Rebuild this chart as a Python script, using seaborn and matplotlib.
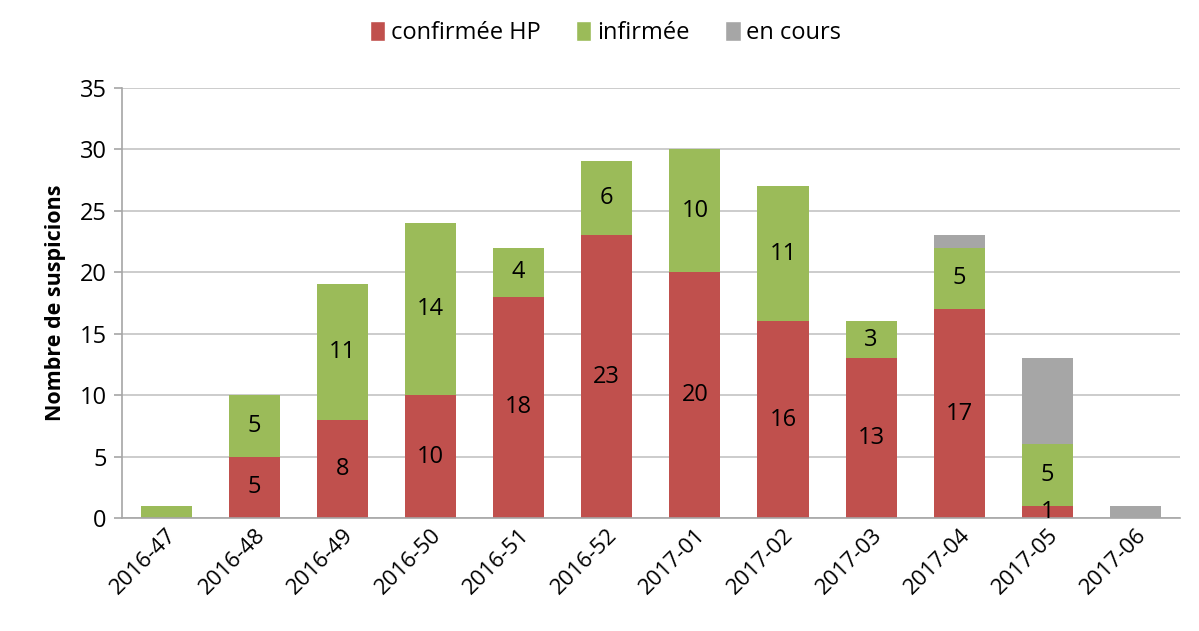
import matplotlib
matplotlib.use("Agg")
import matplotlib.pyplot as plt
import numpy as np
import pandas as pd
import seaborn as sns
from matplotlib.patches import Patch

weeks = ["2016-47", "2016-48", "2016-49", "2016-50", "2016-51", "2016-52",
         "2017-01", "2017-02", "2017-03", "2017-04", "2017-05", "2017-06"]
confirmee = [0, 5, 8, 10, 18, 23, 20, 16, 13, 17, 1, 0]
infirmee = [1, 5, 11, 14, 4, 6, 10, 11, 3, 5, 5, 0]
en_cours = [0, 0, 0, 0, 0, 0, 0, 0, 0, 1, 7, 1]
# étiquette affichée ou non pour les segments verts
show_infirmee = [False] + [True] * 11

series = ["confirmée HP", "infirmée", "en cours"]
colors = {"confirmée HP": "#C0504D", "infirmée": "#9BBB59", "en cours": "#A6A6A6"}

df = pd.DataFrame({"semaine": weeks, "confirmée HP": confirmee,
                   "infirmée": infirmee, "en cours": en_cours})
df["cum_red"] = df["confirmée HP"]
df["cum_green"] = df["cum_red"] + df["infirmée"]
df["cum_gray"] = df["cum_green"] + df["en cours"]

sns.set_theme(style="white")
plt.rcParams["font.family"] = ["Open Sans", "DejaVu Sans"]
plt.rcParams["text.color"] = "black"
plt.rcParams["xtick.color"] = "black"
plt.rcParams["ytick.color"] = "black"
plt.rcParams["axes.labelcolor"] = "black"

fig = plt.figure(figsize=(11.99, 6.31), dpi=100)
ax = fig.add_axes([0.1018, 0.179, 0.882, 0.682])

# empilement par superposition : total d'abord, puis les parties inférieures
for col, name in [("cum_gray", "en cours"), ("cum_green", "infirmée"), ("cum_red", "confirmée HP")]:
    sns.barplot(data=df, x="semaine", y=col, color=colors[name], width=0.58,
                saturation=1, linewidth=0, ax=ax)

for i in range(len(weeks)):
    r = confirmee[i]
    g = infirmee[i]
    if r > 0:
        ax.text(i, r / 2, str(r), ha="center", va="center", fontsize=17)
    if g > 0 and show_infirmee[i]:
        ax.text(i, r + g / 2, str(g), ha="center", va="center", fontsize=17)

ax.set_ylim(0, 35)
ax.set_xlim(-0.5, len(weeks) - 0.5)
ax.set_yticks(np.arange(0, 36, 5))
ax.yaxis.grid(True, color="#BFBFBF", linewidth=1.1)
ax.set_axisbelow(True)
ax.set_xlabel("")
ax.set_ylabel("Nombre de suspicions", fontsize=15.5, fontweight="bold", labelpad=10)

for s in ["top", "right"]:
    ax.spines[s].set_visible(False)
for s in ["left", "bottom"]:
    ax.spines[s].set_color("#A6A6A6")
    ax.spines[s].set_linewidth(1.2)

ax.set_xticks(np.arange(-0.5, len(weeks), 1), minor=True)
ax.tick_params(axis="x", which="major", length=0, labelsize=16, pad=5)
ax.tick_params(axis="x", which="minor", length=7, color="#A6A6A6", width=1.2, direction="out")
ax.tick_params(axis="y", length=6, color="#A6A6A6", width=1.2, labelsize=17,
               labelcolor="black", direction="out", left=True, pad=5)
plt.setp(ax.get_xticklabels(), rotation=45, ha="right", rotation_mode="anchor")

handles = [Patch(facecolor=colors[n], label=n) for n in series]
fig.legend(handles=handles, loc="upper center", bbox_to_anchor=(0.505, 1.0), ncol=3,
           frameon=False, fontsize=17, handlelength=0.65, handleheight=0.9,
           handletextpad=0.25, columnspacing=1.5)

fig.savefig("out.png", dpi=100)
